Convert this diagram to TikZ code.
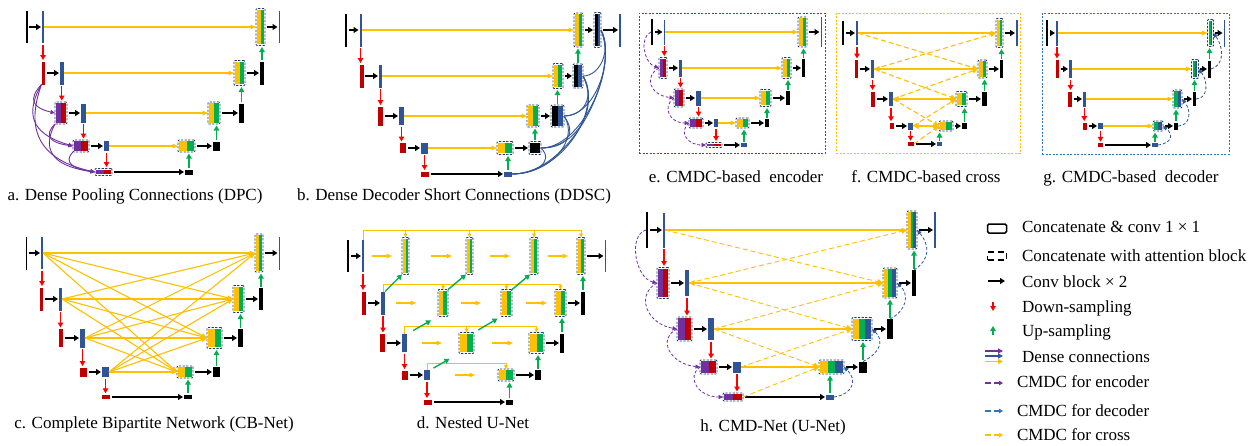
\documentclass[tikz,border=0pt]{standalone}
\usepackage{fontspec}
\setmainfont{Liberation Serif}
\usetikzlibrary{arrows.meta}
\definecolor{cblue}{HTML}{2F5597}
\definecolor{cred}{HTML}{C00000}
\definecolor{cpur}{HTML}{7030A0}
\definecolor{cyel}{HTML}{FFC000}
\definecolor{cgrn}{HTML}{00B050}
\definecolor{cnavy}{HTML}{203864}
\definecolor{arred}{HTML}{FF0000}
\definecolor{cdblue}{HTML}{2E75B6}
% solid block: name, x1, x2, y centre, height, colour
\newcommand\bx[6]{\node[bx,fill=#6,minimum width={#3-#2},minimum height={#5}] (#1) at ({(#2+#3)/2},#4) {};}
% concatenation block: name, x1, x2, y centre, height, number of bars, bar colours
\newcommand\cat[7]{%
  \foreach \cc [count=\k] in {#7}{\fill[\cc] ({#2+1.3+(\k-1)*(#3-#2-2.6)/#6},{#4-#5/2+1.3}) rectangle ({#2+1.3+\k*(#3-#2-2.6)/#6},{#4+#5/2-1.3});}%
  \node[catbox,minimum width={#3-#2},minimum height={#5}] (#1) at ({(#2+#3)/2},#4) {};}
\newcommand\karr[2]{\draw[karrow] (#1) -- (#2);}
\newcommand\yarr[2]{\draw[yarrow] (#1) -- (#1 -| #2.west);}
\newcommand\dnarr[2]{\draw[rarrow] (#1.south) -- (#1.south |- #2.north);}
\newcommand\uparr[2]{\draw[garrow] (#1.north) -- (#1.north |- #2.south);}
\newcommand\wire[4]{\karr{#1}{#2}\yarr{#2}{#3}\karr{#3}{#4}}
\begin{document}
\begin{tikzpicture}[x=1pt,y=-1pt,
  bx/.style={rectangle,inner sep=0pt,outer sep=0pt,draw=none},
  catbox/.style={rectangle,inner sep=0pt,outer sep=0pt,draw=cnavy,line width=0.8pt,dash pattern=on 2.2pt off 1.4pt,rounded corners=1pt},
  frm/.style={rectangle,inner sep=0pt,outer sep=0pt,line width=0.9pt,dash pattern=on 2pt off 1.5pt},
  karrow/.style={draw=black,line width=1.7pt,-{Triangle[length=5pt,width=6pt]},shorten <=1.5pt,shorten >=1pt},
  rarrow/.style={draw=arred,line width=1.4pt,-{Triangle[length=5pt,width=5.5pt]},shorten <=1.5pt,shorten >=1.5pt},
  garrow/.style={draw=cgrn,line width=1.4pt,-{Triangle[length=5pt,width=5.5pt]},shorten <=1.5pt,shorten >=1.5pt},
  yarrow/.style={draw=cyel,line width=1.1pt,-{Triangle[length=5.5pt,width=4.5pt]}},
  yboth/.style={draw=cyel,line width=1.4pt,{Triangle[length=5.5pt,width=5.5pt]}-{Triangle[length=5.5pt,width=5.5pt]}},
  ydash/.style={draw=cyel,line width=1.1pt,dash pattern=on 5pt off 3pt,-{Triangle[length=5.5pt,width=5pt]}},
  dpur/.style={draw=cpur,line width=0.9pt,-{Triangle[length=4.5pt,width=4pt]}},
  dblu/.style={draw=cblue,line width=0.9pt},
  cpurd/.style={draw=cpur,line width=0.8pt,dash pattern=on 3pt off 2pt,-{Triangle[length=4.5pt,width=4pt]}},
  cblud/.style={draw=cblue,line width=0.8pt,dash pattern=on 3pt off 2pt,-{Triangle[length=4.5pt,width=4pt]}},
  lbl/.style={font=\fontsize{17}{20}\selectfont,inner sep=0pt,outer sep=0pt}]
\useasboundingbox (0,0) rectangle (1251,445);
\fill[white] (0,0) rectangle (1251,445);

% ---------------- a. Dense Pooling Connections
\bx{ain}{26}{27.6}{27}{32}{black}
\bx{ae0}{42}{44}{27}{32}{cblue}
\cat{ad0}{256}{265}{27}{37}{2}{cyel,cgrn}
\bx{aout}{278.5}{280}{27}{32}{cblue}
\bx{ap1}{41.5}{45}{73}{23}{cred}
\bx{ae1}{60}{63.5}{73}{23}{cblue}
\cat{ad1}{234}{245}{73}{25}{2}{cyel,cgrn}
\bx{ao1}{260}{264}{73}{23}{black}
\cat{ap2}{55}{67}{113}{22}{2}{cpur,cred}
\bx{ae2}{81}{86}{113}{19}{cblue}
\cat{ad2}{208}{220}{113}{22}{2}{cyel,cgrn}
\bx{ao2}{239}{244}{113}{19}{black}
\cat{ap3}{73}{89}{146}{12}{2}{cpur,cred}
\bx{ae3}{104}{109}{146}{10}{cblue}
\cat{ad3}{178}{195}{146}{12}{2}{cyel,cgrn}
\bx{ao3}{213}{220}{146}{9}{black}
\cat{ap4}{95}{112}{172}{7}{2}{cpur,cred}
\bx{ao4}{185}{193}{172}{5}{black}
\wire{ain}{ae0}{ad0}{aout}
\wire{ap1}{ae1}{ad1}{ao1}
\wire{ap2}{ae2}{ad2}{ao2}
\wire{ap3}{ae3}{ad3}{ao3}
\karr{ap4}{ao4}
\dnarr{ae0}{ap1}\dnarr{ae1}{ap2}\dnarr{ae2}{ap3}\dnarr{ae3}{ap4}
\uparr{ao1}{ad0}\uparr{ao2}{ad1}\uparr{ao3}{ad2}\uparr{ao4}{ad3}
\draw[dpur] (ap1.south west) .. controls +(-14,15) and +(-22,-5) .. (ap2.west);
\draw[dpur] (ap1.south west) .. controls +(-20,35) and +(-35,-10) .. (ap3.west);
\draw[dpur] (ap1.south west) .. controls +(-20,55) and +(-45,-10) .. (ap4.west);
\draw[dpur] (ap2.south west) .. controls +(-12,12) and +(-22,-3) .. (ap3.west);
\draw[dpur] (ap2.south west) .. controls +(-16,30) and +(-36,-5) .. (ap4.west);
\draw[dpur] (ap3.south west) .. controls +(-10,10) and +(-22,-3) .. (ap4.west);
\node[lbl,anchor=base] (capa) at (135,200) {a. Dense Pooling Connections (DPC)};

% ---------------- b. Dense Decoder Short Connections
\bx{bin}{345}{347}{30}{33}{black}
\bx{be0}{359.5}{361.5}{30}{33}{cblue}
\cat{bd0}{574}{583}{30}{34}{2}{cyel,cgrn}
\cat{bc0}{594}{601}{30}{35}{2}{black,cblue}
\bx{bout}{619}{620.5}{30}{33}{cblue}
\bx{bp1}{360}{363.5}{76}{23}{cred}
\bx{be1}{379}{382}{76}{23}{cblue}
\cat{bd1}{553}{563}{76}{25}{2}{cyel,cgrn}
\cat{bc1}{573}{583}{76}{24}{2}{black,cblue}
\bx{bp2}{378}{383}{116}{19}{cred}
\bx{be2}{399}{404}{116}{18}{cblue}
\cat{bd2}{527}{539}{116}{22}{2}{cyel,cgrn}
\cat{bc2}{551}{564}{116}{22}{2}{black,cblue}
\bx{bp3}{400}{406}{148}{10}{cred}
\bx{be3}{421}{428}{148}{11}{cblue}
\cat{bd3}{497}{513}{148}{13}{2}{cyel,cgrn}
\cat{bc3}{529}{541}{148}{13}{1}{black}
\bx{bp4}{421}{429}{174}{5}{cred}
\bx{bo4}{504}{512}{174}{5}{cblue}
\wire{bin}{be0}{bd0}{bc0}\karr{bc0}{bout}
\wire{bp1}{be1}{bd1}{bc1}
\wire{bp2}{be2}{bd2}{bc2}
\wire{bp3}{be3}{bd3}{bc3}
\karr{bp4}{bo4}
\dnarr{be0}{bp1}\dnarr{be1}{bp2}\dnarr{be2}{bp3}\dnarr{be3}{bp4}
\uparr{bc1}{bd0}\uparr{bc2}{bd1}\uparr{bc3}{bd2}\uparr{bo4}{bd3}
\draw[dblu] (bo4.east) .. controls +(60,0) and +(20,40) .. (bc0.east);
\draw[dblu] (bo4.east) .. controls +(50,0) and +(20,34) .. (bc1.east);
\draw[dblu] (bo4.east) .. controls +(38,0) and +(16,24) .. (bc2.east);
\draw[dblu] (bo4.east) .. controls +(23,0) and +(14,14) .. (bc3.east);
\draw[dblu] (bc3.east) .. controls +(40,0) and +(17,40) .. (bc0.east);
\draw[dblu] (bc3.east) .. controls +(34,0) and +(17,34) .. (bc1.east);
\draw[dblu] (bc3.east) .. controls +(24,0) and +(14,19) .. (bc2.east);
\draw[dblu] (bc2.east) .. controls +(31,0) and +(14,30) .. (bc0.east);
\draw[dblu] (bc2.east) .. controls +(21,0) and +(12,19) .. (bc1.east);
\draw[dblu] (bc1.east) .. controls +(17,0) and +(11,20) .. (bc0.east);
\node[lbl,anchor=base] (capb) at (454,200) {b. Dense Decoder Short Connections (DDSC)};

% ---------------- e. CMDC-based encoder
\node[frm,draw=cpur,minimum width=186,minimum height=140] (fre) at (732,83) {};
\bx{ein}{651}{653}{32}{26}{black}
\bx{ee0}{663.5}{665}{32}{25}{cblue}
\cat{ed0}{798}{807}{32}{30}{2}{cyel,cgrn}
\bx{eout}{820.5}{822}{32}{30}{cblue}
\cat{ep1}{659}{667}{68}{21}{2}{cpur,cred}
\bx{ee1}{679}{682}{68}{17}{cblue}
\cat{ed1}{782}{791}{68}{21}{2}{cyel,cgrn}
\bx{eo1}{802}{805}{68}{18}{black}
\cat{ep2}{674}{684}{98}{18}{2}{cpur,cred}
\bx{ee2}{696}{701}{98}{15}{cblue}
\cat{ed2}{760}{771}{98}{17}{2}{cyel,cgrn}
\bx{eo2}{786}{790}{98}{14}{black}
\cat{ep3}{689}{703}{123}{10}{2}{cpur,cred}
\bx{ee3}{714}{718}{123}{8}{cblue}
\cat{ed3}{736}{749}{123}{10}{2}{cyel,cgrn}
\bx{eo3}{765}{769}{123}{8}{black}
\cat{ep4}{706}{722}{145}{5}{2}{cpur,cred}
\bx{eo4}{741}{747}{145}{4}{cblue}
\wire{ein}{ee0}{ed0}{eout}
\wire{ep1}{ee1}{ed1}{eo1}
\wire{ep2}{ee2}{ed2}{eo2}
\wire{ep3}{ee3}{ed3}{eo3}
\karr{ep4}{eo4}
\dnarr{ee0}{ep1}\dnarr{ee1}{ep2}\dnarr{ee2}{ep3}\dnarr{ee3}{ep4}
\uparr{eo1}{ed0}\uparr{eo2}{ed1}\uparr{eo3}{ed2}\uparr{eo4}{ed3}
\draw[cpurd] (ein.west) .. controls +(-12,5) and +(-15,-5) .. (ep1.west);
\draw[cpurd] (ep1.west) .. controls +(-15,8) and +(-25,-3) .. (ep2.west);
\draw[cpurd] (ep2.west) .. controls +(-12,8) and +(-20,0) .. (ep3.west);
\draw[cpurd] (ep3.west) .. controls +(-10,8) and +(-20,0) .. (ep4.west);
\node[lbl,anchor=base] (cape) at (736,182) {e. CMDC-based\ \ encoder};

% ---------------- f. CMDC-based cross
\node[frm,draw=cyel,minimum width=184,minimum height=140] (frf) at (928,83) {};
\bx{fin}{842}{844}{33}{24}{black}
\bx{fe0}{856}{858}{33}{24}{cblue}
\cat{fd0}{996}{1003}{33}{29}{2}{cyel,cgrn}
\bx{fout}{1016}{1018}{33}{26}{cblue}
\bx{fp1}{855}{858}{69}{18}{cred}
\bx{fe1}{871}{874}{69}{18}{cblue}
\cat{fd1}{978}{987}{69}{18}{2}{cyel,cgrn}
\bx{fo1}{1000}{1003}{69}{18}{black}
\bx{fp2}{871}{875}{99}{15}{cred}
\bx{fe2}{889}{893}{99}{14}{cblue}
\cat{fd2}{956}{967}{99}{15}{2}{cyel,cgrn}
\bx{fo2}{982}{987}{99}{14}{black}
\bx{fp3}{890}{894}{126}{6.5}{cred}
\bx{fe3}{908}{913}{126}{7}{cblue}
\cat{fd3}{939}{953}{126}{10}{2}{cyel,cgrn}
\bx{fo3}{962}{967}{126}{6}{black}
\bx{fp4}{908}{914}{144}{3.5}{cred}
\bx{fo4}{937}{942}{144}{3.5}{cblue}
\karr{fin}{fe0}\karr{fd0}{fout}
\karr{fp1}{fe1}\karr{fd1}{fo1}
\karr{fp2}{fe2}\karr{fd2}{fo2}
\karr{fp3}{fe3}\karr{fd3}{fo3}
\karr{fp4}{fo4}
\draw[yarrow,line width=1.4pt] (fe0) -- (fe0 -| fd0.west);
\draw[yboth] (fe1) -- (fe1 -| fd1.west);
\draw[yboth] (fe2) -- (fe2 -| fd2.west);
\draw[yboth] (fe3) -- (fe3 -| fd3.west);
\draw[ydash] (fe0.east) -- (fd1.west);
\draw[ydash] (fe1.east) -- (fd0.west);
\draw[ydash] (fe1.east) -- (fd2.west);
\draw[ydash] (fe2.east) -- (fd1.west);
\draw[ydash] (fe2.east) -- (fd3.west);
\draw[ydash] (fe3.east) -- (fd2.west);
\draw[ydash] (fp4.east) -- (fd3.west);
\dnarr{fe0}{fp1}\dnarr{fe1}{fp2}\dnarr{fe2}{fp3}\dnarr{fe3}{fp4}
\uparr{fo1}{fd0}\uparr{fo2}{fd1}\uparr{fo3}{fd2}\uparr{fo4}{fd3}
\node[lbl,anchor=base] (capf) at (926,182) {f. CMDC-based cross};

% ---------------- g. CMDC-based decoder
\node[frm,draw=cdblue,minimum width=187,minimum height=141] (frg) at (1135.5,83.5) {};
\bx{gin}{1046}{1048}{33}{26}{black}
\bx{ge0}{1056}{1058}{33}{25}{cblue}
\cat{gd0}{1207.5}{1213.5}{33}{27}{2}{cgrn,cblue}
\bx{gout}{1223.5}{1225}{33}{27}{cblue}
\bx{gp1}{1056}{1059}{69}{18}{cred}
\bx{ge1}{1069}{1072}{69}{18}{cblue}
\cat{gd1}{1191.5}{1198.5}{69}{19}{2}{cgrn,cblue}
\bx{go1}{1208}{1211}{69}{17}{black}
\bx{gp2}{1068}{1072}{99}{15}{cred}
\bx{ge2}{1083}{1085.5}{99}{15}{cblue}
\cat{gd2}{1173}{1182}{99}{18}{2}{cgrn,cblue}
\bx{go2}{1193}{1196}{99}{14}{black}
\bx{gp3}{1083}{1087}{126}{7}{cred}
\bx{ge3}{1098}{1103}{126}{6.5}{cblue}
\cat{gd3}{1153}{1163}{126}{10}{2}{cgrn,cblue}
\bx{go3}{1174}{1178}{126}{7}{black}
\bx{gp4}{1098}{1103}{145}{3.5}{cred}
\bx{go4}{1152}{1158}{145}{4}{cblue}
\wire{gin}{ge0}{gd0}{gout}
\wire{gp1}{ge1}{gd1}{go1}
\wire{gp2}{ge2}{gd2}{go2}
\wire{gp3}{ge3}{gd3}{go3}
\karr{gp4}{go4}
\dnarr{ge0}{gp1}\dnarr{ge1}{gp2}\dnarr{ge2}{gp3}\dnarr{ge3}{gp4}
\uparr{go1}{gd0}\uparr{go2}{gd1}\uparr{go3}{gd2}\uparr{go4}{gd3}
\draw[cblud] (go4.east) .. controls +(15,-2) and +(10,8) .. (gd3.east);
\draw[cblud] (go3.east) .. controls +(12,0) and +(10,12) .. (gd2.east);
\draw[cblud] (go2.east) .. controls +(12,0) and +(10,12) .. (gd1.east);
\draw[cblud] (go1.east) .. controls +(14,-4) and +(10,14) .. (gd0.east);
\node[lbl,anchor=base] (capg) at (1131,182) {g. CMDC-based\ \ decoder};

% ---------------- c. Complete Bipartite Network
\bx{cin}{25.5}{27}{253}{33}{black}
\bx{ce0}{41}{43}{253}{32}{cblue}
\cat{cd0}{255}{263}{253}{38}{2}{cyel,cgrn}
\bx{cout}{278.5}{280}{253}{33}{cblue}
\bx{cp1}{40}{43}{299}{23}{cred}
\bx{ce1}{59}{62}{299}{23}{cblue}
\cat{cd1}{233}{244}{299}{27}{2}{cyel,cgrn}
\bx{co1}{259}{263}{299}{22}{black}
\bx{cp2}{59}{63}{338}{18}{cred}
\bx{ce2}{80}{85}{338}{19}{cblue}
\cat{cd2}{207}{222}{338}{21}{2}{cyel,cgrn}
\bx{co2}{238}{243}{338}{18}{black}
\bx{cp3}{80}{87}{372}{9}{cred}
\bx{ce3}{102}{109}{372}{10}{cblue}
\cat{cd3}{177}{193}{372}{12}{2}{cyel,cgrn}
\bx{co3}{213}{220}{372}{10}{black}
\bx{cp4}{102}{110}{397}{4.5}{cred}
\bx{co4}{184}{192}{397}{4.5}{black}
\karr{cin}{ce0}\karr{cd0}{cout}
\karr{cp1}{ce1}\karr{cd1}{co1}
\karr{cp2}{ce2}\karr{cd2}{co2}
\karr{cp3}{ce3}\karr{cd3}{co3}
\karr{cp4}{co4}
\foreach \i in {0,...,3}{\foreach \j in {0,...,3}{\draw[yarrow] (ce\i.east) -- (cd\j.west);}}
\dnarr{ce0}{cp1}\dnarr{ce1}{cp2}\dnarr{ce2}{cp3}\dnarr{ce3}{cp4}
\uparr{co1}{cd0}\uparr{co2}{cd1}\uparr{co3}{cd2}\uparr{co4}{cd3}
\node[lbl,anchor=base] (capc) at (154,428) {c. Complete Bipartite Network (CB-Net)};

% ---------------- d. Nested U-Net
\bx{din}{347}{349}{256}{32}{black}
\bx{de0}{362}{364}{256}{32}{cblue}
\cat{dn01}{402}{409}{256}{37}{2}{cyel,cgrn}
\cat{dn02}{466}{473}{256}{37}{2}{cyel,cgrn}
\cat{dn03}{530}{538}{256}{37}{2}{cyel,cgrn}
\cat{dn04}{577}{585}{256}{37}{2}{cyel,cgrn}
\bx{dout}{604.5}{606}{256}{32}{cblue}
\bx{dp1}{362}{366}{303}{23}{cred}
\bx{de1}{381}{385}{303}{23}{cblue}
\cat{dn11}{438}{448}{303}{27}{2}{cyel,cgrn}
\cat{dn12}{501}{512}{303}{27}{2}{cyel,cgrn}
\cat{dn13}{555}{566}{303}{27}{2}{cyel,cgrn}
\bx{do1}{581}{585}{303}{23}{black}
\bx{dp2}{380}{385}{343}{18}{cred}
\bx{de2}{402}{407}{343}{18}{cblue}
\cat{dn21}{459}{474}{343}{21}{2}{cyel,cgrn}
\cat{dn22}{529}{544}{343}{21}{2}{cyel,cgrn}
\bx{do2}{560}{564}{343}{19}{black}
\bx{dp3}{402}{408}{375}{9}{cred}
\bx{de3}{424}{430}{375}{10}{cblue}
\cat{dn31}{498}{514}{375}{12}{2}{cyel,cgrn}
\bx{do3}{535}{541}{375}{10}{black}
\bx{dp4}{424}{432}{402}{5}{cred}
\bx{do4}{506}{513}{402}{5}{black}
\karr{din}{de0}\karr{dn04}{dout}
\karr{dp1}{de1}\karr{dn13}{do1}
\karr{dp2}{de2}\karr{dn22}{do2}
\karr{dp3}{de3}\karr{dn31}{do3}
\karr{dp4}{do4}
\dnarr{de0}{dp1}\dnarr{de1}{dp2}\dnarr{de2}{dp3}\dnarr{de3}{dp4}
\uparr{do1}{dn04}\uparr{do2}{dn13}\uparr{do3}{dn22}\uparr{do4}{dn31}
% same-level forward arrows
\draw[yarrow,shorten <=8pt,shorten >=10pt] (de0) -- (dn01);
\draw[yarrow,shorten <=22pt,shorten >=14pt] (dn01) -- (dn02);
\draw[yarrow,shorten <=17pt,shorten >=20pt] (dn02) -- (dn03);
\draw[yarrow,shorten <=10pt,shorten >=9pt] (dn03) -- (dn04);
\draw[yarrow,shorten <=11pt,shorten >=22pt] (de1) -- (dn11);
\draw[yarrow,shorten <=13pt,shorten >=20pt] (dn11) -- (dn12);
\draw[yarrow,shorten <=14pt,shorten >=8pt] (dn12) -- (dn13);
\draw[yarrow,shorten <=15pt,shorten >=17pt] (de2) -- (dn21);
\draw[yarrow,shorten <=18pt,shorten >=16pt] (dn21) -- (dn22);
\draw[yarrow,shorten <=25pt,shorten >=23pt] (de3) -- (dn31);
% dense skip lines
\coordinate (dt0) at (363,230);
\coordinate (dt1) at (383,284);
\coordinate (dt2) at (404.5,326);
\coordinate (dt3) at (427,363);
\begin{scope}[every path/.style={draw=cyel,line width=0.9pt}]
\draw[-{Triangle[length=4pt,width=4pt]}] (de0.north) -- (dt0) -| (dn04.north);
\draw[-{Triangle[length=4pt,width=4pt]}] (dt0 -| dn01.north) -- (dn01.north);
\draw[-{Triangle[length=4pt,width=4pt]}] (dt0 -| dn02.north) -- (dn02.north);
\draw[-{Triangle[length=4pt,width=4pt]}] (dt0 -| dn03.north) -- (dn03.north);
\draw[-{Triangle[length=4pt,width=4pt]}] (de1.north) -- (dt1) -| (dn13.north);
\draw[-{Triangle[length=4pt,width=4pt]}] (dt1 -| dn11.north) -- (dn11.north);
\draw[-{Triangle[length=4pt,width=4pt]}] (dt1 -| dn12.north) -- (dn12.north);
\draw[-{Triangle[length=4pt,width=4pt]}] (de2.north) -- (dt2) -| (dn22.north);
\draw[-{Triangle[length=4pt,width=4pt]}] (dt2 -| dn21.north) -- (dn21.north);
\draw[-{Triangle[length=4pt,width=4pt]}] (de3.north) -- (dt3) -| (dn31.north);
\end{scope}
% diagonal up-sampling
\draw[garrow,shorten <=0pt,shorten >=0pt] (de1.north east) -- (dn01.south west);
\draw[garrow,shorten <=0pt,shorten >=0pt] (dn11.north east) -- (dn02.south west);
\draw[garrow,shorten <=0pt,shorten >=0pt] (dn12.north east) -- (dn03.south west);
\draw[garrow,shorten <=7pt,shorten >=8pt] (de2.north east) -- (dn11.south west);
\draw[garrow,shorten <=5pt,shorten >=4pt] (dn21.north east) -- (dn12.south west);
\draw[garrow,shorten <=4pt,shorten >=11pt] (de3.north east) -- (dn21.south west);
\node[lbl,anchor=base] (capd) at (473,428) {d. Nested U-Net};

% ---------------- h. CMD-Net (U-Net)
\bx{hin}{646}{648}{230}{36}{black}
\bx{he0}{663}{665}{230}{35}{cblue}
\cat{hd0}{907}{917}{230}{38}{3}{cyel,cgrn,cblue}
\bx{hout}{934}{936}{230}{36}{cblue}
\cat{hp1}{657}{669}{283}{31}{2}{cpur,cred}
\bx{he1}{685}{689}{283}{26}{cblue}
\cat{hd1}{883}{897}{283}{30}{3}{cyel,cgrn,cblue}
\bx{ho1}{912}{916}{283}{26}{black}
\cat{hp2}{677}{692}{329}{24}{2}{cpur,cred}
\bx{he2}{708}{714}{329}{22}{cblue}
\cat{hd2}{852}{872}{329}{23}{3}{cyel,cgrn,cblue}
\bx{ho2}{887}{893}{329}{20}{black}
\cat{hp3}{700}{717}{367}{14}{2}{cpur,cred}
\bx{he3}{733}{741}{367}{11}{cblue}
\cat{hd3}{819}{844}{367}{14}{3}{cyel,cgrn,cblue}
\bx{ho3}{859}{867}{367}{11}{black}
\cat{hp4}{723}{743}{397}{8}{2}{cpur,cred}
\bx{ho4}{826}{834}{397}{5}{cblue}
\karr{hin}{he0}\karr{hd0}{hout}
\karr{hp1}{he1}\karr{hd1}{ho1}
\karr{hp2}{he2}\karr{hd2}{ho2}
\karr{hp3}{he3}\karr{hd3}{ho3}
\karr{hp4}{ho4}
\yarr{he0}{hd0}
\draw[yboth,line width=1.2pt] (he1) -- (he1 -| hd1.west);
\yarr{he2}{hd2}\yarr{he3}{hd3}
\draw[ydash,line width=0.9pt] (he0.east) -- (hd1.west);
\draw[ydash,line width=0.9pt] (he1.east) -- (hd0.west);
\draw[ydash,line width=0.9pt] (he1.east) -- (hd2.west);
\draw[ydash,line width=0.9pt] (he2.east) -- (hd1.west);
\draw[ydash,line width=0.9pt] (he2.east) -- (hd3.west);
\draw[ydash,line width=0.9pt] (he3.east) -- (hd2.west);
\draw[ydash,line width=0.9pt] (hp4.east) -- (hd3.west);
\dnarr{he0}{hp1}\dnarr{he1}{hp2}\dnarr{he2}{hp3}\dnarr{he3}{hp4}
\uparr{ho1}{hd0}\uparr{ho2}{hd1}\uparr{ho3}{hd2}\uparr{ho4}{hd3}
\draw[cpurd] (hin.west) .. controls +(-18,5) and +(-22,-5) .. (hp1.west);
\draw[cpurd] (hp1.west) .. controls +(-22,12) and +(-30,-5) .. (hp2.west);
\draw[cpurd] (hp2.west) .. controls +(-20,10) and +(-30,-3) .. (hp3.west);
\draw[cpurd] (hp3.west) .. controls +(-14,10) and +(-25,0) .. (hp4.west);
\draw[cblud] (ho4.east) .. controls +(20,-3) and +(13,12) .. (hd3.east);
\draw[cblud] (ho3.north) .. controls +(16,-8) and +(13,12) .. (hd2.east);
\draw[cblud] (ho2.north) .. controls +(16,-8) and +(13,12) .. (hd1.east);
\draw[cblud] (ho1.north) .. controls +(16,-10) and +(13,15) .. (hd0.east);
\node[lbl,anchor=base] (caph) at (773,431) {h. CMD-Net (U-Net)};

% ---------------- legend
\node[draw=black,line width=1.5pt,rounded corners=1.5pt,inner sep=0pt,minimum width=19,minimum height=9] (lg1) at (997,228.5) {};
\node[draw=black,line width=1.5pt,dash pattern=on 6pt off 4pt,inner sep=0pt,minimum width=19,minimum height=8] (lg2) at (997,256) {};
\coordinate (lg3a) at (988,281); \coordinate (lg3b) at (1005,281);
\coordinate (lg4a) at (993,302); \coordinate (lg4b) at (993,311);
\coordinate (lg5a) at (993,335); \coordinate (lg5b) at (993,326);
\coordinate (lg6a) at (985,351); \coordinate (lg6b) at (1003,351);
\coordinate (lg7a) at (985,356); \coordinate (lg7b) at (1003,356);
\coordinate (lg8a) at (985,361.5); \coordinate (lg8b) at (1003,361.5);
\coordinate (lg9a) at (985,383); \coordinate (lg9b) at (1003,383);
\coordinate (lg10a) at (985,411); \coordinate (lg10b) at (1003,411);
\coordinate (lg11a) at (985,435); \coordinate (lg11b) at (1003,435);
\draw[karrow,shorten <=0pt,shorten >=0pt] (lg3a) -- (lg3b);
\draw[rarrow,shorten <=0pt,shorten >=0pt] (lg4a) -- (lg4b);
\draw[garrow,shorten <=0pt,shorten >=0pt] (lg5a) -- (lg5b);
\draw[draw=cpur,line width=1.8pt,-{Triangle[length=5pt,width=5pt]}] (lg6a) -- (lg6b);
\draw[draw=cblue,line width=1.8pt,-{Triangle[length=5pt,width=5pt]}] (lg7a) -- (lg7b);
\draw[draw=cyel,line width=1.8pt,-{Triangle[length=5pt,width=5pt]}] (lg8a) -- (lg8b);
\draw[draw=cpur,line width=1.5pt,dash pattern=on 6pt off 3pt,-{Triangle[length=4pt,width=4.5pt]}] (lg9a) -- (lg9b);
\draw[draw=cdblue,line width=1.5pt,dash pattern=on 6pt off 3pt,-{Triangle[length=4pt,width=4.5pt]}] (lg10a) -- (lg10b);
\draw[draw=cyel,line width=1.5pt,dash pattern=on 6pt off 3pt,-{Triangle[length=4pt,width=4.5pt]}] (lg11a) -- (lg11b);
\node[lbl,anchor=base west] (lt1) at (1022,232) {Concatenate \& conv 1 × 1};
\node[lbl,anchor=base west] (lt2) at (1022,261) {Concatenate with attention block};
\node[lbl,anchor=base west] (lt3) at (1022,287) {Conv block × 2};
\node[lbl,anchor=base west] (lt4) at (1022,312) {Down-sampling};
\node[lbl,anchor=base west] (lt5) at (1022,336) {Up-sampling};
\node[lbl,anchor=base west] (lt6) at (1022,362) {Dense connections};
\node[lbl,anchor=base west] (lt7) at (1017,387.5) {CMDC for encoder};
\node[lbl,anchor=base west] (lt8) at (1017,416) {CMDC for decoder};
\node[lbl,anchor=base west] (lt9) at (1017,440.5) {CMDC for cross};
\end{tikzpicture}
\end{document}
